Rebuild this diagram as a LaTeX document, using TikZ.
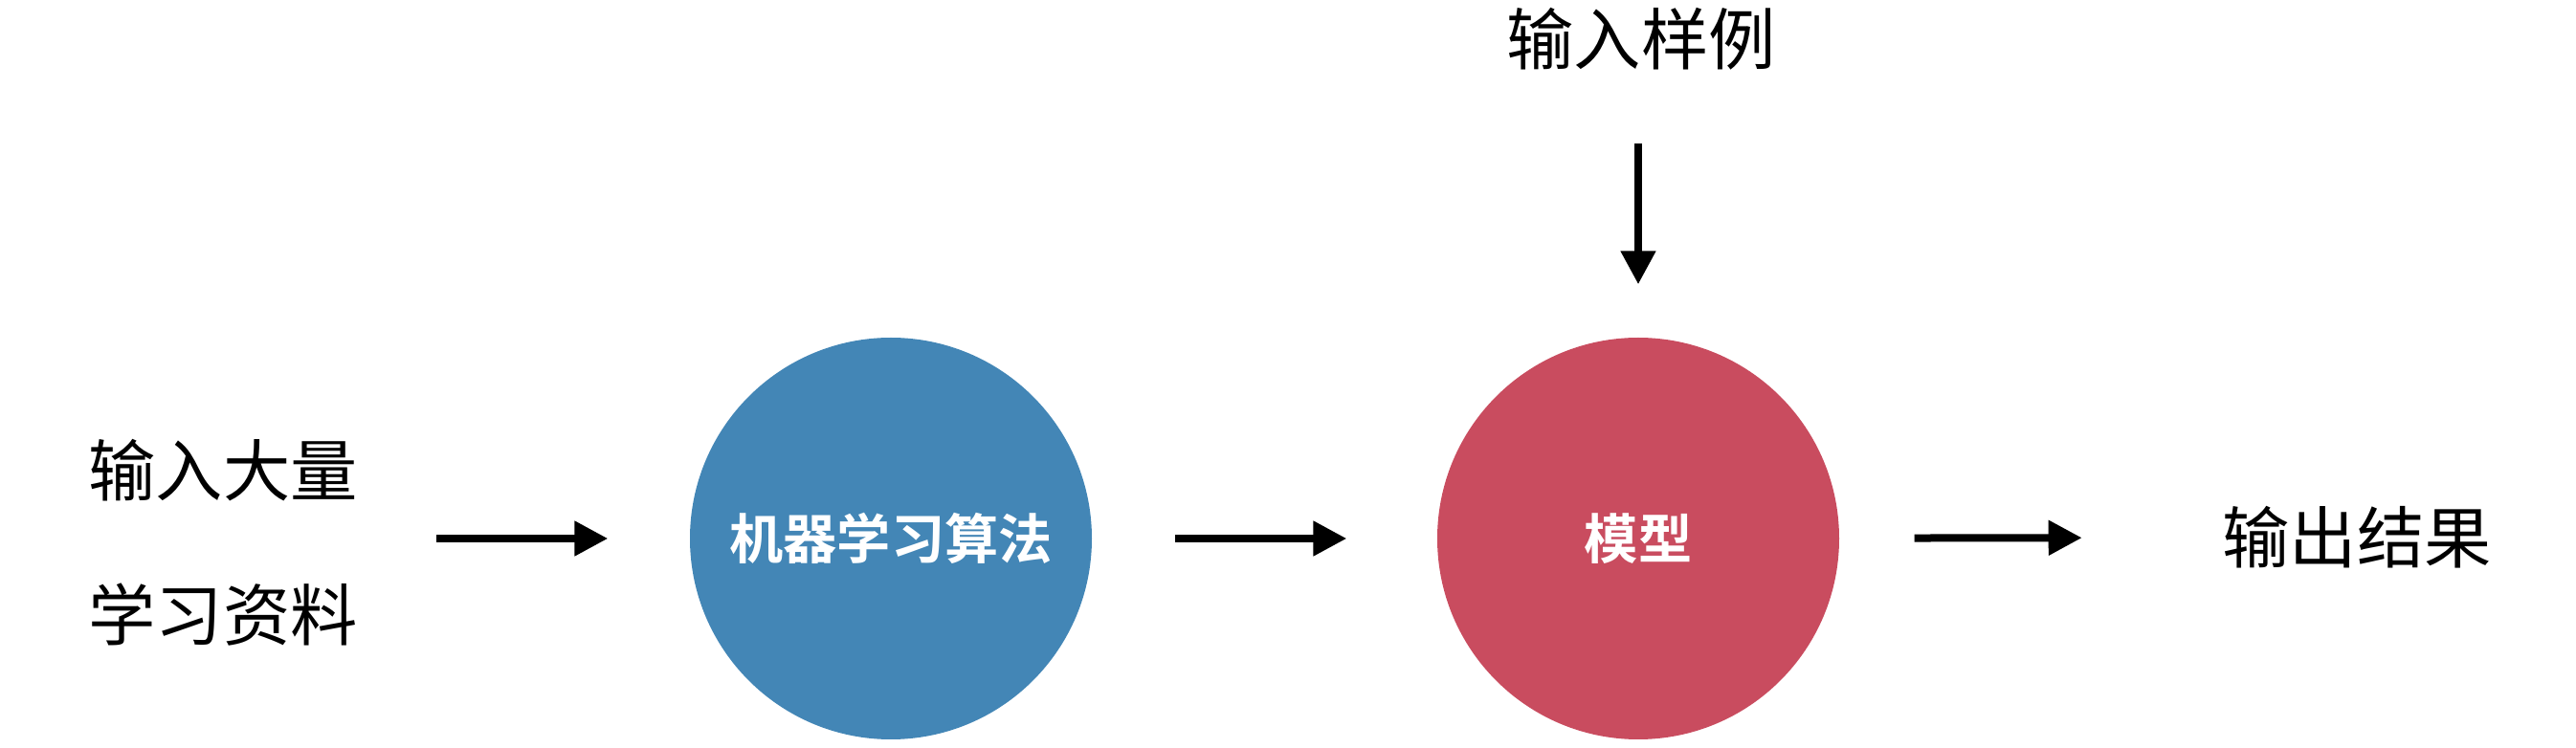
\documentclass[tikz,border=0pt]{standalone}
\usepackage{fontspec}
\setmainfont{Noto Sans CJK SC}[BoldFont={Noto Sans CJK SC Bold}]
\usetikzlibrary{arrows.meta}

\definecolor{algoblue}{RGB}{67,134,182}
\definecolor{modelred}{RGB}{201,76,95}

\begin{document}
\begin{tikzpicture}[
  flow/.style={-{Triangle[length=0.35cm,width=0.35cm]}, line width=0.08cm},
  word/.style={inner sep=0pt, font=\fontsize{20}{24}\selectfont},
  ball/.style={circle, minimum size=4.2cm, inner sep=0pt, text=white,
    font=\bfseries\fontsize{16}{19}\selectfont}
]
\useasboundingbox (0,0) rectangle (26.92,7.82);

\node[word] (dataA) at (2.33,2.90) {输入大量};
\node[word] (dataB) at (2.33,1.39) {学习资料};

\node[ball, fill=algoblue] (algo) at (9.31,2.19) {机器学习算法};
\node[ball, fill=modelred] (model) at (17.12,2.19) {模型};

\node[word] (sample) at (17.15,7.41) {输入样例};
\node[word] (result) at (24.63,2.20) {输出结果};

\draw[flow, shorten <=0.82cm, shorten >=0.85cm] (dataA.east |- algo) -- (algo);
\draw[flow, shorten <=0.86cm, shorten >=0.94cm] (algo) -- (model);
\draw[flow, shorten <=0.78cm, shorten >=1.46cm] (model) -- (result.west);
\draw[flow, shorten <=0.76cm, shorten >=0.55cm] (sample.south -| model) -- (model);
\end{tikzpicture}
\end{document}
